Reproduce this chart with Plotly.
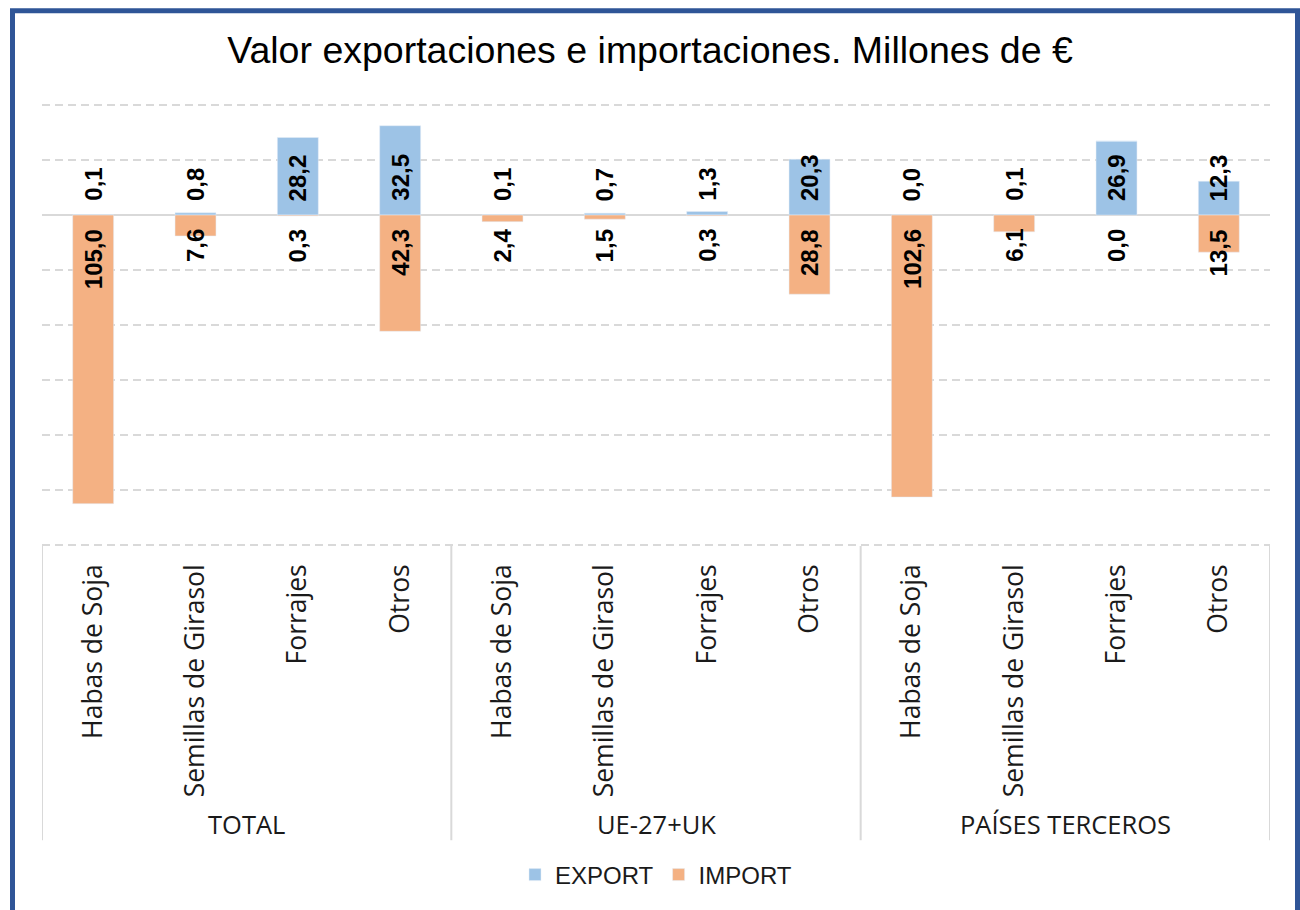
import plotly.graph_objects as go

# Data
groups = ["TOTAL", "UE-27+UK", "PAÍSES TERCEROS"]
products = ["Habas de Soja", "Semillas de Girasol", "Forrajes", "Otros"]
export_vals = [0.1, 0.8, 28.2, 32.5, 0.1, 0.7, 1.3, 20.3, 0.0, 0.1, 26.9, 12.3]
import_vals = [105.0, 7.6, 0.3, 42.3, 2.4, 1.5, 0.3, 28.8, 102.6, 6.1, 0.0, 13.5]
tick_labels = products * len(groups)

BLUE = "#9DC3E6"
ORANGE = "#F4B183"
GRID = "#D9D9D9"
FRAME = "#2F5597"

W, H = 1300, 910
L, R, T, B = 42, 1270, 104, 550  # plot area in pixels


def px_x(px):
    return (px - L) / (R - L)


def px_y(py):
    return (B - py) / (B - T)


def fmt(v):
    return f"{v:.1f}".replace(".", ",")


xs = list(range(len(tick_labels)))

fig = go.Figure()
fig.add_bar(x=xs, y=export_vals, name="EXPORT", marker_color=BLUE, width=0.4)
fig.add_bar(x=xs, y=[-v for v in import_vals], name="IMPORT",
            marker_color=ORANGE, width=0.4)

label_font = dict(family="Liberation Sans, Arial", size=24, color="black")
annotations = []
for x, e, i in zip(xs, export_vals, import_vals):
    annotations.append(dict(x=x, y=0, xref="x", yref="y", text=f"<b>{fmt(e)}</b>",
                            textangle=-90, showarrow=False, yanchor="bottom",
                            yshift=12, font=label_font))
    annotations.append(dict(x=x, y=0, xref="x", yref="y", text=f"<b>{fmt(i)}</b>",
                            textangle=-90, showarrow=False, yanchor="top",
                            yshift=-12, font=label_font))

n_per = len(products)
for g, name in enumerate(groups):
    annotations.append(dict(x=g * n_per + (n_per - 1) / 2, y=px_y(831), xref="x",
                            yref="paper", text=name, showarrow=False,
                            yanchor="middle", xanchor="center",
                            font=dict(family="Open Sans", size=25.5, color="#1a1a1a")))

shapes = []
for g in range(len(groups) + 1):
    xb = g * n_per - 0.5
    shapes.append(dict(type="line", xref="x", yref="paper", x0=xb, x1=xb,
                       y0=0, y1=px_y(847), line=dict(color=GRID, width=2)))
# outer frame
shapes.append(dict(type="rect", xref="paper", yref="paper",
                   x0=px_x(12.5), x1=px_x(1297.5), y0=px_y(960), y1=px_y(10),
                   line=dict(color=FRAME, width=5), fillcolor="rgba(0,0,0,0)"))

fig.update_layout(
    width=W, height=H,
    margin=dict(l=L, r=W - R, t=T, b=H - B),
    paper_bgcolor="white", plot_bgcolor="white",
    barmode="relative",
    title=dict(text="Valor exportaciones e importaciones. Millones de €",
               x=0.5, xref="container", y=1 - 50 / H, yref="container",
               yanchor="middle", xanchor="center",
               font=dict(family="Liberation Sans, Arial", size=37.5, color="black")),
    xaxis=dict(range=[-0.5, len(xs) - 0.5], tickvals=xs, ticktext=tick_labels,
               tickangle=-90, showgrid=False, zeroline=False, showline=False,
               ticks="", ticklabelstandoff=12,
               tickfont=dict(family="Open Sans", size=26.5, color="#1a1a1a")),
    yaxis=dict(range=[-120.4, 40.4], dtick=20, tick0=0, showticklabels=False,
               showgrid=True, gridcolor=GRID, gridwidth=2, griddash="8px,5px",
               zeroline=True, zerolinecolor=GRID, zerolinewidth=2,
               showline=False, ticks=""),
    legend=dict(orientation="h", x=0.5, xanchor="center", y=px_y(882),
                yanchor="middle", font=dict(family="Liberation Sans, Arial",
                                            size=24, color="#1a1a1a"),
                itemwidth=30, traceorder="normal"),
    annotations=annotations,
    shapes=shapes,
)

fig.write_html("out.html")
